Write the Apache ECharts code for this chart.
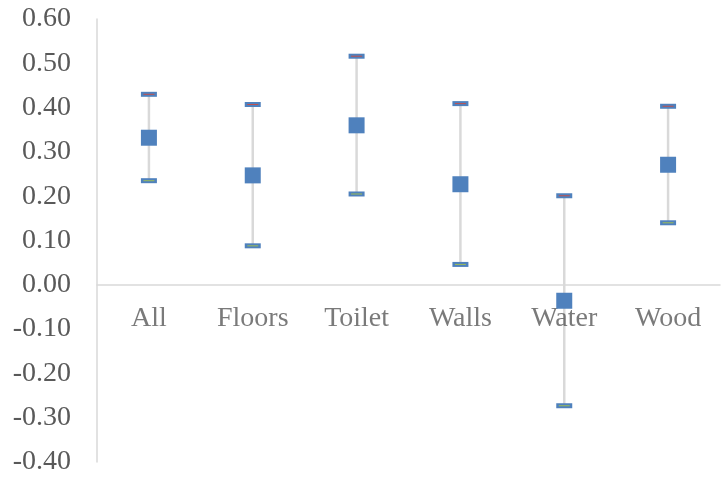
<!DOCTYPE html>
<html>
<head>
<meta charset="utf-8">
<style>
  html, body { margin: 0; padding: 0; background: #ffffff; }
  #chart { width: 724px; height: 484px; }
</style>
<script src="https://cdn.jsdelivr.net/npm/echarts@6/dist/echarts.min.js"></script>
</head>
<body>
<div id="chart"></div>
<script>
// Categories and the high / mean / low values for each
const categories = ['All', 'Floors', 'Toilet', 'Walls', 'Water', 'Wood'];
const highValues = [0.430, 0.407, 0.516, 0.409, 0.201, 0.403];
const meanValues = [0.332, 0.247, 0.360, 0.227, -0.036, 0.271];
const lowValues  = [0.235, 0.088, 0.205, 0.046, -0.273, 0.140];
const yTicks = { min: -0.4, max: 0.6, interval: 0.1 };

const blue = '#4F81BD';
const axisGrey = '#D9D9D9';
const textGrey = '#595959';
const labelFont = 'Liberation Serif, Times New Roman, serif';
const labelSize = 28;

const chart = echarts.init(document.getElementById('chart'));

// blue dash with a thin coloured stripe through its middle
function dashSeries(name, values, stripe) {
  return [
    {
      name: name,
      type: 'scatter',
      data: values,
      symbol: 'rect',
      symbolSize: [16, 5],
      itemStyle: { color: blue, opacity: 1 },
      z: 3
    },
    {
      name: name + ' stripe',
      type: 'scatter',
      data: values,
      symbol: 'rect',
      symbolSize: [11, 1],
      itemStyle: { color: stripe, opacity: 1 },
      z: 4
    }
  ];
}

chart.setOption({
  animation: false,
  backgroundColor: '#ffffff',
  grid: { left: 97, right: 4, top: 19, bottom: 22, containLabel: false, outerBoundsMode: 'none' },
  xAxis: {
    type: 'category',
    data: categories,
    boundaryGap: true,
    axisLine: { show: true, onZero: true, lineStyle: { color: axisGrey, width: 1.5 } },
    axisTick: { show: false },
    axisLabel: { show: false },
    splitLine: { show: false }
  },
  yAxis: {
    type: 'value',
    min: yTicks.min,
    max: yTicks.max,
    interval: yTicks.interval,
    axisLine: { show: true, lineStyle: { color: axisGrey, width: 1.5 } },
    axisTick: { show: false },
    splitLine: { show: false },
    axisLabel: {
      color: textGrey, fontFamily: labelFont, fontSize: labelSize, margin: 26,
      formatter: v => v.toFixed(2)
    }
  },
  series: [
    {
      // vertical high-low range line
      type: 'custom',
      data: categories.map((c, i) => [i, lowValues[i], highValues[i]]),
      renderItem: (params, api) => {
        const p1 = api.coord([api.value(0), api.value(1)]);
        const p2 = api.coord([api.value(0), api.value(2)]);
        return {
          type: 'line',
          shape: { x1: p1[0], y1: p1[1], x2: p2[0], y2: p2[1] },
          style: { stroke: axisGrey, lineWidth: 2.5 }
        };
      },
      z: 1
    },
    ...dashSeries('High', highValues, '#C0504D'),
    ...dashSeries('Low', lowValues, '#9BBB59'),
    {
      name: 'Mean',
      type: 'scatter',
      data: meanValues,
      symbol: 'rect',
      symbolSize: 16,
      itemStyle: { color: blue, opacity: 1 },
      z: 5
    },
    {
      // category names sitting just under the zero line
      name: 'Category labels',
      type: 'scatter',
      data: categories.map((c, i) => [i, 0]),
      symbolSize: 0,
      silent: true,
      label: {
        show: true,
        position: 'bottom',
        distance: 20,
        formatter: p => categories[p.dataIndex],
        color: textGrey,
        fontFamily: labelFont,
        fontSize: labelSize
      },
      z: 2
    }
  ]
});
</script>
</body>
</html>
